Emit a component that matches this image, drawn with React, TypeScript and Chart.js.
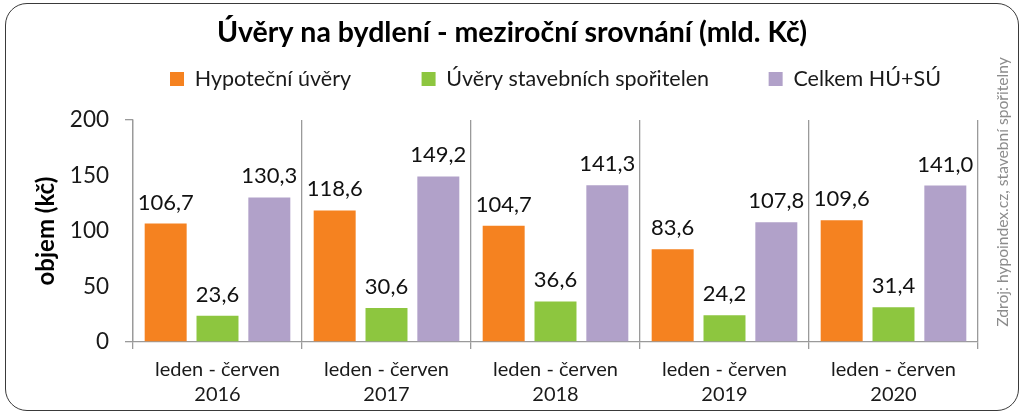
import React, { useEffect, useRef } from "react";
import { Chart, registerables } from "chart.js";

Chart.register(...registerables);

const categories: string[][] = [
  ["leden - červen", "2016"],
  ["leden - červen", "2017"],
  ["leden - červen", "2018"],
  ["leden - červen", "2019"],
  ["leden - červen", "2020"],
];
const seriesNames = ["Hypoteční úvěry", "Úvěry stavebních spořitelen", "Celkem HÚ+SÚ"];
const hypotecni = [106.7, 118.6, 104.7, 83.6, 109.6];
const stavebni = [23.6, 30.6, 36.6, 24.2, 31.4];
const celkem = [130.3, 149.2, 141.3, 107.8, 141.0];
const seriesColors = ["#F58220", "#8DC63F", "#B1A1C9"];
const titleText = "Úvěry na bydlení - meziroční srovnání (mld. Kč)";
const yTitle = "objem (kč)";
const sourceText = "Zdroj: hypoindex.cz, stavební spořitelny";

const FONT = "Lato, 'Open Sans', sans-serif";
const legendSpacing = [11, 9, 0];

const valueLabels = {
  id: "valueLabels",
  afterDatasetsDraw(chart: any) {
    const ctx = chart.ctx;
    ctx.save();
    ctx.font = `22px ${FONT}`;
    ctx.fillStyle = "#111";
    ctx.textAlign = "center";
    ctx.textBaseline = "alphabetic";
    chart.data.datasets.forEach((ds: any, di: number) => {
      const meta = chart.getDatasetMeta(di);
      meta.data.forEach((bar: any, i: number) => {
        const v = ds.data[i] as number;
        ctx.fillText(v.toFixed(1).replace(".", ","), bar.x, bar.y - 14);
      });
    });
    ctx.restore();
  },
};

const sourceNote = {
  id: "sourceNote",
  afterDraw(chart: any) {
    const ctx = chart.ctx;
    ctx.save();
    ctx.translate(1003, 192);
    ctx.rotate(-Math.PI / 2);
    ctx.font = `15.6px ${FONT}`;
    ctx.fillStyle = "#8c8c8c";
    ctx.textAlign = "center";
    ctx.textBaseline = "middle";
    ctx.fillText(sourceText, 0, 0);
    ctx.restore();
  },
};

export default function App() {
  const ref = useRef<HTMLCanvasElement | null>(null);

  useEffect(() => {
    if (!ref.current) return;
    const data = [hypotecni, stavebni, celkem];
    const chart = new Chart(ref.current, {
      type: "bar",
      data: {
        labels: categories,
        datasets: seriesNames.map((name, i) => ({
          label: name,
          data: data[i],
          backgroundColor: seriesColors[i],
          borderWidth: 0,
          categoryPercentage: 0.92,
          barPercentage: 0.81,
        })),
      },
      options: {
        animation: false,
        responsive: true,
        maintainAspectRatio: false,
        layout: { padding: { left: 0, right: 0, top: 0, bottom: 0 } },
        plugins: {
          title: {
            display: true,
            text: titleText,
            color: "#000",
            font: { family: FONT, size: 28.5, weight: "bold", lineHeight: 1.2 },
            padding: { top: 15.9, bottom: 8.2 },
          },
          subtitle: {
            display: true,
            text: " ",
            weight: 500,
            font: { size: 10, lineHeight: 1 },
            padding: { top: 10.25, bottom: 0 },
          } as any,
          legend: {
            display: true,
            position: "top",
            fullSize: false,
            labels: {
              color: "#1a1a1a",
              font: { family: FONT, size: 21.5 },
              boxWidth: 14,
              boxHeight: 14,
              padding: 10,
              generateLabels: (c: any) => {
                const items = Chart.defaults.plugins.legend.labels.generateLabels(c);
                return items.map((it: any, i: number) => ({
                  ...it,
                  lineWidth: 0,
                  text: it.text + " ".repeat(legendSpacing[i] || 0),
                }));
              },
            },
          },
          tooltip: { enabled: false },
        },
        scales: {
          x: {
            afterFit: (s: any) => {
              s.height = 75;
            },
            grid: {
              display: true,
              offset: true,
              drawOnChartArea: true,
              drawTicks: true,
              tickLength: 7,
              color: "#9a9a9a",
              lineWidth: 1.3,
            },
            border: { display: true, color: "#9a9a9a", width: 1.3 },
            ticks: {
              color: "#1a1a1a",
              font: { family: FONT, size: 20, lineHeight: 1.25 },
              padding: 8.5,
              maxRotation: 0,
            },
          },
          y: {
            min: 0,
            max: 200,
            afterFit: (s: any) => {
              s.width = 133;
            },
            ticks: {
              stepSize: 50,
              color: "#1a1a1a",
              font: { family: FONT, size: 22.5 },
              padding: 16,
            },
            grid: {
              drawOnChartArea: false,
              drawTicks: true,
              tickLength: 8,
              color: (c: any) =>
                c.tick && (c.tick.value === 0 || c.tick.value === 200) ? "#9a9a9a" : "rgba(0,0,0,0)",
              lineWidth: 1.3,
            },
            border: { display: true, color: "#9a9a9a", width: 1.3 },
            title: {
              display: true,
              text: yTitle,
              color: "#000",
              font: { family: FONT, size: 24, weight: "bold", lineHeight: 1.2 },
              padding: { top: 31.6, bottom: 0 },
            },
          },
          rightSpace: {
            type: "linear",
            position: "right",
            display: true,
            afterFit: (s: any) => {
              s.width = 46;
            },
            ticks: { display: false },
            grid: { display: false, drawTicks: false },
            border: { display: false },
          },
        },
      },
      plugins: [valueLabels, sourceNote],
    });
    return () => chart.destroy();
  }, []);

  return (
    <div
      style={{
        position: "fixed",
        left: 0,
        top: 0,
        width: 1024,
        height: 417,
        background: "#fff",
      }}
    >
      <canvas ref={ref} style={{ position: "absolute", left: 0, top: 0 }} />
      <div
        style={{
          position: "absolute",
          left: 5,
          top: 3,
          width: 1014,
          height: 408,
          boxSizing: "border-box",
          border: "1.5px solid #3a3a3a",
          borderRadius: 22,
          pointerEvents: "none",
        }}
      />
    </div>
  );
}
